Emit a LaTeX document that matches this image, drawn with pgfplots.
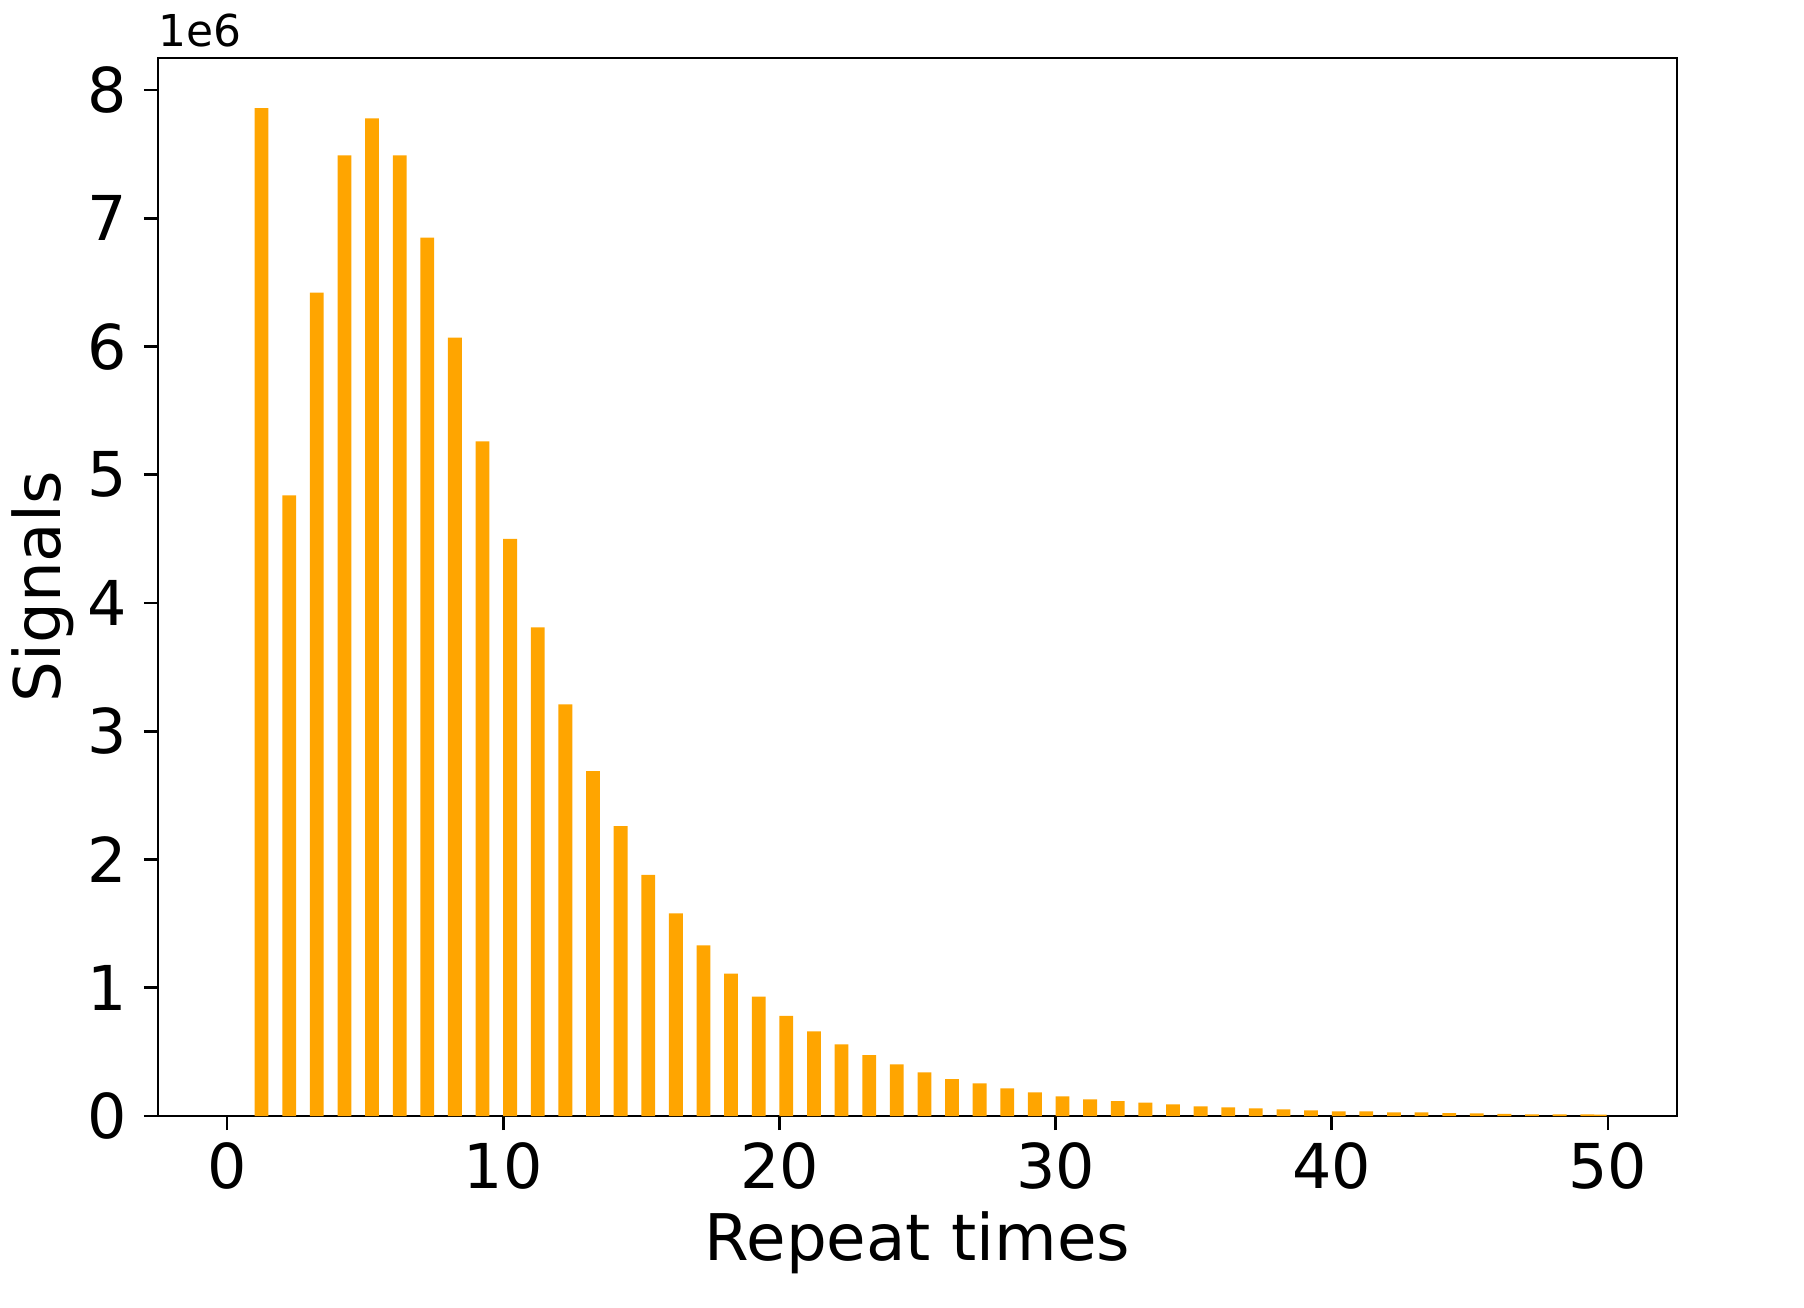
\documentclass[border=0pt]{standalone}
\usepackage{fontspec}
\setmainfont{DejaVu Sans}
\usepackage{pgfplots}
\pgfplotsset{compat=1.18}
\definecolor{barorange}{HTML}{FFA500}

% counts per repeat time, in units of 1e6
\pgfplotstableread{
x y
1 7.86
2 4.84
3 6.42
4 7.49
5 7.78
6 7.49
7 6.85
8 6.07
9 5.26
10 4.50
11 3.81
12 3.21
13 2.69
14 2.26
15 1.88
16 1.58
17 1.33
18 1.11
19 0.93
20 0.78
21 0.66
22 0.558
23 0.475
24 0.403
25 0.340
26 0.288
27 0.255
28 0.216
29 0.184
30 0.153
31 0.130
32 0.117
33 0.104
34 0.091
35 0.075
36 0.068
37 0.060
38 0.052
39 0.044
40 0.036
41 0.036
42 0.029
43 0.029
44 0.023
45 0.021
46 0.016
47 0.013
48 0.013
49 0.012
49.45 0.010
}\signals

\begin{document}
\begin{tikzpicture}
\useasboundingbox (-1.58,-1.91) rectangle (16.46,11.16);
\begin{axis}[
    at={(0,0)}, anchor=south west,
    scale only axis,
    width=15.19cm, height=10.58cm,
    xmin=-2.5, xmax=52.5,
    ymin=0, ymax=8.25,
    xtick={0,10,...,50},
    ytick={0,1,...,8},
    xtick pos=left, ytick pos=left,
    tick align=outside,
    major tick length=0.14cm,
    every tick/.style={black, line width=0.8pt},
    axis line style={line width=0.8pt},
    tick label style={font=\fontsize{17.6}{20}\selectfont},
    yticklabel style={xshift=-0.05cm},
    label style={font=\fontsize{18.3}{21}\selectfont},
    /pgf/number format/assume math mode=true,
    xlabel={Repeat times},
    ylabel={Signals},
    xlabel style={at={(axis description cs:0.5,0)}, anchor=center, yshift=-1.27cm},
    ylabel style={at={(axis description cs:-0.076,0.5)}, anchor=center},
    clip=false,
    ybar, bar width=0.5, bar shift=0.25,
]
\addplot[fill=barorange, draw=none] table[x=x, y=y] {\signals};
\node[anchor=south west, inner sep=0pt, font=\fontsize{12.5}{14}\selectfont]
    at (rel axis cs:0,1) [yshift=0.1cm] {1e6};
\end{axis}
\end{tikzpicture}
\end{document}
